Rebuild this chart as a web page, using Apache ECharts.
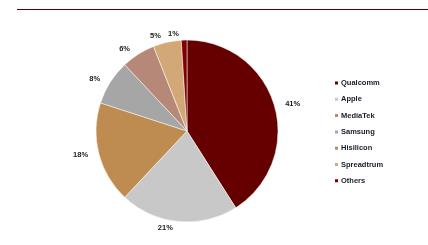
<!DOCTYPE html>
<html><head><meta charset="utf-8">
<script src="https://cdn.jsdelivr.net/npm/echarts@6/dist/echarts.min.js"></script>
<style>html,body{margin:0;padding:0;background:#fff}#c{width:428px;height:245px}</style>
</head><body><div id="c"></div>
<script>
const categories = ['Qualcomm','Apple','MediaTek','Samsung','Hisilicon','Spreadtrum','Others'];
const shares = [41,21,18,8,6,5,1];
const colors = ['#660000','#c8c8c8','#be8c50','#a6a6a6','#b68878','#d2a976','#7e0000'];
const chart = echarts.init(document.getElementById('c'));
chart.setOption({
  animation:false,
  graphic:[{type:'line',shape:{x1:17,y1:9.5,x2:428,y2:9.5},style:{stroke:'#5c0000',lineWidth:1.2}}],
  legend:{orient:'vertical',left:333,top:79,padding:0,itemWidth:5,itemHeight:5,itemGap:8.3,icon:'rect',
    textStyle:{fontFamily:'Liberation Sans',fontSize:7.5,fontWeight:'bold',color:'#1a1a2a',padding:[0,0,0,-3]},
    data:categories},
  series:[{type:'pie',center:[187,131],radius:[0,91],startAngle:90,clockwise:true,
    avoidLabelOverlap:false,
    color:colors,
    data:categories.map((n,i)=>({name:n,value:shares[i]})),
    label:{show:true,position:'outside',formatter:'{c}%',fontFamily:'Liberation Sans',fontSize:7.5,fontWeight:'bold',color:'#1a1a1a'},
    labelLine:{show:false,length:6,length2:0},
    itemStyle:{borderColor:'#fff',borderWidth:0.5}
  }]
});
</script></body></html>
